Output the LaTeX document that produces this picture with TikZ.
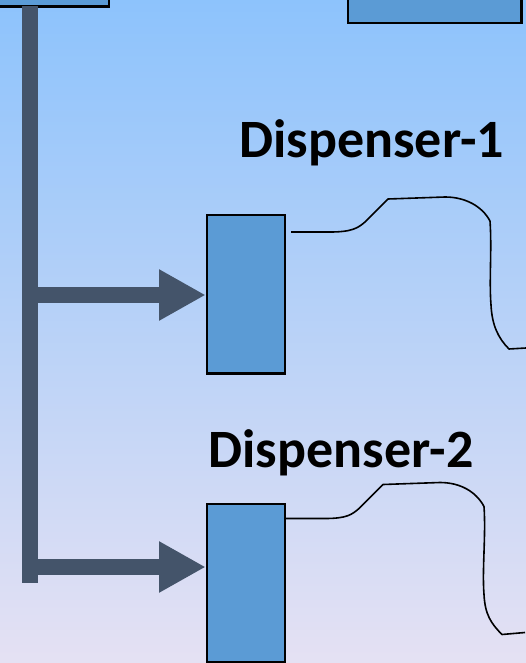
\documentclass[tikz,border=0pt]{standalone}
\usepackage{fontspec}
\setmainfont{Carlito}
\usetikzlibrary{arrows.meta}

\definecolor{skytop}{RGB}{141,195,252}
\definecolor{skybottom}{RGB}{229,225,243}
\definecolor{unitblue}{RGB}{91,155,213}
\definecolor{pipeslate}{RGB}{68,84,106}

\tikzset{
  unitbox/.style={draw=black, line width=2.3pt, fill=unitblue, inner sep=0pt},
  dispenserbox/.style={unitbox, minimum width=78.3pt, minimum height=158.4pt},
  feedpipe/.style={pipeslate, line width=16pt, line cap=butt},
  feedarrow/.style={feedpipe, -{Triangle[length=46.7pt, width=48pt]}},
  dispenserlabel/.style={font=\bfseries\fontsize{54}{58}\selectfont, anchor=base, inner sep=0pt},
  hose/.style={draw=black, line width=1.6pt, line join=round}
}

\begin{document}
\begin{tikzpicture}[x=1pt, y=-1pt]
  % page frame and sky-like background
  \useasboundingbox (0,0) rectangle (526,663);
  \clip (0,0) rectangle (526,663);
  \shade[top color=skytop, bottom color=skybottom] (0,0) rectangle (526,663);

  % partially visible units along the top edge
  \node[unitbox, minimum width=160pt, minimum height=60pt] (tank) at (28.7,-23.6) {};
  \node[unitbox, minimum width=173.3pt, minimum height=60pt] (pump) at (434.7,-7.3) {};

  % dispensers
  \node[dispenserbox] (disp1) at (246,294.4) {};
  \node[dispenserbox] (disp2) at (246,583) {};

  \node[dispenserlabel] (lab1) at (371.7,157.7) {Dispenser-1};
  \node[dispenserlabel] (lab2) at (341,467.7) {Dispenser-2};

  % main feed line and branches
  \coordinate (feedtop) at (29.8,6.4);
  \coordinate (feedend) at (29.8,582.7);
  \coordinate (branch1) at (29.8,295);
  \coordinate (branch2) at (29.8,567);
  \draw[feedpipe] (feedtop) -- (feedend);
  \draw[feedarrow] (branch1) -- (disp1.west |- branch1);
  \draw[feedarrow] (branch2) -- (disp2.west |- branch2);

  % hoses leaving each dispenser
  \coordinate (hose1) at (291,232);
  \coordinate (hose2) at (286,518.5);
  \draw[hose] (hose1) -- ++(39,0)
    .. controls +(22,0) and +(-7,6) .. ++(35,-10)
    -- ++(23,-23)
    -- ++(57,-2)
    .. controls +(20,0) and +(-8,-15) .. ++(45,24)
    .. controls +(2,29) and +(-2,-25) .. ++(1,84)
    .. controls +(1,20) and +(-11,-11) .. ++(18,44)
    -- ++(17,-1);
  \draw[hose] (hose2) -- ++(39,0)
    .. controls +(22,0) and +(-7,6) .. ++(34,-10)
    -- ++(24,-24)
    -- ++(57,-2)
    .. controls +(20,0) and +(-8,-15) .. ++(44,24)
    .. controls +(2,29) and +(-2,-25) .. ++(0,88)
    .. controls +(1,20) and +(-11,-11) .. ++(18,40)
    -- ++(23,-2);
\end{tikzpicture}
\end{document}
